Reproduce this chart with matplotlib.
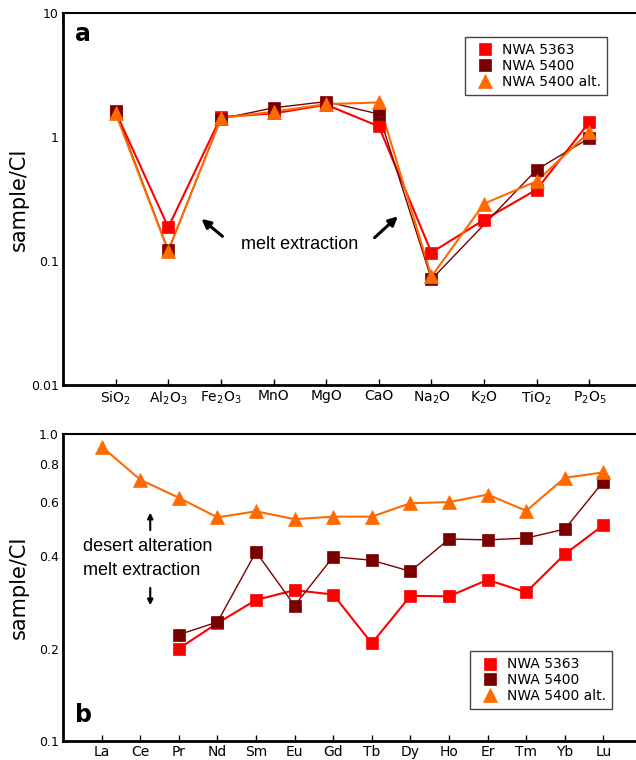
import matplotlib
matplotlib.use("Agg")
import matplotlib.pyplot as plt
import numpy as np

plt.rcParams['font.family'] = ['DejaVu Sans']
plt.rcParams['mathtext.fontset'] = 'custom'
plt.rcParams['mathtext.rm'] = 'Liberation Sans'
plt.rcParams['mathtext.default'] = 'regular'

# panel a: major oxides
oxides = ['SiO$_2$', 'Al$_2$O$_3$', 'Fe$_2$O$_3$', 'MnO', 'MgO', 'CaO',
          'Na$_2$O', 'K$_2$O', 'TiO$_2$', 'P$_2$O$_5$']
ox_5363 = [1.60, 0.187, 1.45, 1.55, 1.82, 1.22, 0.117, 0.215, 0.377, 1.32]
ox_5400 = [1.61, 0.122, 1.40, 1.72, 1.93, 1.53, 0.071, np.nan, 0.546, 0.98]
ox_5400_alt = [1.55, 0.120, 1.42, 1.60, 1.84, 1.90, 0.075, 0.29, 0.44, 1.10]

# panel b: rare earth elements
ree = ['La', 'Ce', 'Pr', 'Nd', 'Sm', 'Eu', 'Gd', 'Tb', 'Dy', 'Ho', 'Er', 'Tm', 'Yb', 'Lu']
ree_5363 = [np.nan, np.nan, 0.200, 0.242, 0.288, 0.310, 0.300, 0.208, 0.297, 0.296,
            0.335, 0.305, 0.406, 0.505]
ree_5400 = [np.nan, np.nan, 0.222, 0.244, 0.413, 0.276, 0.398, 0.388, 0.357, 0.455,
            0.452, 0.458, 0.490, 0.700]
ree_5400_alt = [0.91, 0.71, 0.62, 0.535, 0.56, 0.528, 0.538, 0.538, 0.595, 0.60,
                0.635, 0.562, 0.72, 0.75]

names = ['NWA 5363', 'NWA 5400', 'NWA 5400 alt.']
colors = ['#ff0000', '#7a0000', '#ff6a00']
markers = ['s', 's', '^']
msizes = [8, 9, 10]
lwidths = [1.5, 1.0, 1.5]

W, H = 636, 760


def draw_series(ax, series):
    x = np.arange(len(series[0]))
    for vals, name, c, m, ms, lw in zip(series, names, colors, markers, msizes, lwidths):
        y = np.array(vals, dtype=float)
        ok = ~np.isnan(y)
        ax.plot(x[ok], y[ok], '-', color=c, lw=lw, zorder=2)
        ax.plot(x[ok], y[ok], m, color=c, ms=ms, mec=c, mew=0.5, label=name, zorder=3)


def style_axes(ax, labels, xmax, loc, anchor):
    ax.set_yscale('log')
    ax.set_xlim(-1, xmax)
    ax.set_xticks(np.arange(len(labels)))
    ax.set_xticklabels(labels, fontsize=10)
    ax.tick_params(axis='x', direction='in', length=4, width=1, pad=3)
    ax.tick_params(axis='y', which='both', length=0, labelsize=9, pad=3)
    ax.yaxis.set_minor_locator(matplotlib.ticker.NullLocator())
    ax.spines['right'].set_visible(False)
    for s in ['left', 'bottom']:
        ax.spines[s].set_linewidth(2)
    ax.spines['top'].set_linewidth(1.5)
    ax.set_ylabel('sample/CI', fontsize=15)
    ax.yaxis.set_label_coords(-(63 - 29) / 579, 0.5)
    leg = ax.legend(fontsize=10, numpoints=1, fancybox=False, framealpha=1,
                    borderpad=0.45, handletextpad=0.2, labelspacing=0.12,
                    borderaxespad=0.0, loc=loc, bbox_to_anchor=anchor)
    leg.get_frame().set_edgecolor('#444444')
    leg.get_frame().set_linewidth(1.0)


fig = plt.figure(figsize=(6.36, 7.6), dpi=100)
ax_a = fig.add_axes([63 / W, 1 - 385 / H, 579 / W, 372 / H])
ax_b = fig.add_axes([63 / W, 1 - 741 / H, 579 / W, 307 / H])

# panel a
draw_series(ax_a, [ox_5363, ox_5400, ox_5400_alt])
style_axes(ax_a, oxides, 10, 'upper right', ((607 - 63) / 579, (385 - 37) / 372))
ax_a.set_ylim(0.01, 10)
ax_a.set_yticks([0.01, 0.1, 1, 10])
ax_a.set_yticklabels(['0.01', '0.1', '1', '10'])
ax_a.text(0.021, 0.975, 'a', transform=ax_a.transAxes, fontsize=17, fontweight='bold',
          va='top', ha='left')
ax_a.text(3.5, 0.135, 'melt extraction', fontsize=13, ha='center', va='center',
          family='Liberation Sans')
ax_a.annotate('', xy=(1.59, 0.226), xytext=(2.07, 0.153),
              arrowprops=dict(arrowstyle='-|>', color='black', lw=2.2, mutation_scale=13))
ax_a.annotate('', xy=(5.40, 0.237), xytext=(4.88, 0.149),
              arrowprops=dict(arrowstyle='-|>', color='black', lw=2.2, mutation_scale=13))

# panel b
draw_series(ax_b, [ree_5363, ree_5400, ree_5400_alt])
style_axes(ax_b, ree, 14, 'lower right', ((612 - 63) / 579, (741 - 709) / 307))
ax_b.set_ylim(0.1, 1.0)
ax_b.set_yticks([0.1, 0.2, 0.4, 0.6, 0.8, 1.0])
ax_b.set_yticklabels(['0.1', '0.2', '0.4', '0.6', '0.8', '1.0'])
ax_b.text(0.021, 0.045, 'b', transform=ax_b.transAxes, fontsize=17, fontweight='bold',
          va='bottom', ha='left')
ax_b.text(-0.48, 0.43, 'desert alteration', fontsize=13, ha='left', va='center',
          family='Liberation Sans')
ax_b.text(-0.48, 0.358, 'melt extraction', fontsize=13, ha='left', va='center',
          family='Liberation Sans')
ax_b.annotate('', xy=(1.26, 0.566), xytext=(1.26, 0.476),
              arrowprops=dict(arrowstyle='-|>', color='black', lw=1.5, mutation_scale=8))
ax_b.annotate('', xy=(1.26, 0.271), xytext=(1.26, 0.322),
              arrowprops=dict(arrowstyle='-|>', color='black', lw=1.5, mutation_scale=8))

fig.savefig('out.png', dpi=100)
